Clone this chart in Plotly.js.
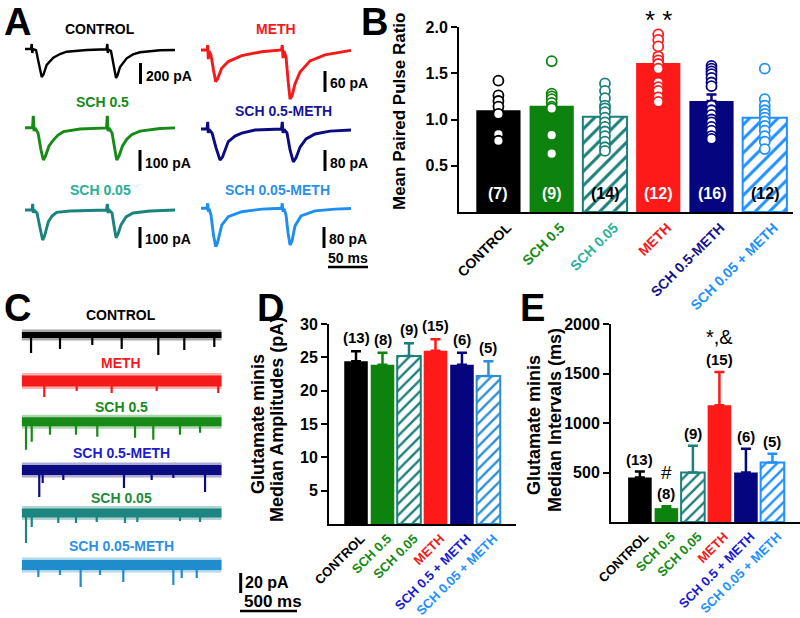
<!DOCTYPE html>
<html><head><meta charset="utf-8">
<script src="https://cdn.plot.ly/plotly-3.0.1.min.js"></script>
<style>body{margin:0;background:#fff}#chart{width:800px;height:618px}</style>
</head><body><div id="chart"></div>
<script>
// ---------------- Panel B data ----------------
const catsB = ["CONTROL", "SCH 0.5", "SCH 0.05", "METH", "SCH 0.5-METH", "SCH 0.05 + METH"];
const nB = ["(7)", "(9)", "(14)", "(12)", "(16)", "(12)"];
const pprMean = [1.10, 1.15, 1.03, 1.61, 1.20, 1.02];
const pprErr = [0.08, 0.10, 0.06, 0.10, 0.07, 0.07];
const pprCtrl = [1.42, 1.26, 1.20, 1.14, 1.06, 0.84, 0.77];
const pprSch05 = [1.63, 1.28, 1.25, 1.22, 1.18, 1.14, 1.12, 0.83, 0.63];
const pprSch005 = [1.39, 1.31, 1.23, 1.15, 1.12, 1.08, 1.02, 0.97, 0.92, 0.87, 0.82, 0.76, 0.70, 0.66];
const pprMeth = [1.92, 1.86, 1.79, 1.68, 1.64, 1.60, 1.55, 1.40, 1.35, 1.31, 1.24, 1.19];
const pprSch05Meth = [1.58, 1.55, 1.52, 1.49, 1.45, 1.40, 1.36, 1.15, 1.10, 1.05, 1.00, 0.97, 0.92, 0.88, 0.82, 0.79];
const pprSch005Meth = [1.55, 1.22, 1.15, 1.10, 1.06, 1.02, 0.98, 0.93, 0.88, 0.82, 0.76, 0.68];

// ---------------- Panels D / E data ----------------
const catsDE = ["CONTROL", "SCH 0.5", "SCH 0.05", "METH", "SCH 0.5 + METH", "SCH 0.05 + METH"];
const ampMedian = [24.4, 23.9, 25.2, 26.0, 23.9, 22.2];
const ampErr = [1.5, 1.8, 1.9, 1.7, 1.8, 2.2];
const ampN = ["(13)", "(8)", "(9)", "(15)", "(6)", "(5)"];
const intMedian = [450, 140, 500, 1180, 500, 600];
const intErr = [60, 20, 270, 335, 240, 90];
const intN = ["(13)", "(8)", "(9)", "(15)", "(6)", "(5)"];

// ---------------- Panel A traces (ms, pA) ----------------
const aNames = ["CONTROL", "METH", "SCH 0.5", "SCH 0.5-METH", "SCH 0.05", "SCH 0.05-METH"];
const aScaleLabels = ["200 pA", "60 pA", "100 pA", "80 pA", "100 pA", "80 pA"];
const aScaleValues = [200, 60, 100, 80, 100, 80];
const ctrlT = [0,7.5,8.4,9.1,10,13.8,16.9,20.9,23.1,27.1,35.4,43.8,52.1,77.1,101.9,102.9,103.5,104.4,107.5,110.6,113.8,115.6,118.8,127.1,135,143.8,168.8,187.5];
const ctrlI = [0,0,48,-38,0,-10,-124,-267,-243,-152,-83,-48,-26,-10,-3,48,-38,-5,-19,-143,-276,-252,-171,-89,-52,-31,-12,-10];
const methT = [0,7.5,8.4,9.1,10,12.5,15.6,18.4,20.6,25.9,34.1,50.9,75.9,100.6,101.6,102.5,103.8,106.3,108.8,111.3,113.8,117.5,123.8,136.3,155,173.8,187.5];
const methI = [0,0,14,-26,-3,-14,-57,-91,-83,-52,-33,-16,-5,0,14,-23,-3,-20,-86,-140,-131,-97,-63,-31,-14,-6,-1];
const sch05T = [0,9.4,10.4,11.3,12.5,16.3,20,22.9,25.6,30,35.4,41.3,48,68.8,101.9,102.9,103.8,105,108.8,111.9,114.6,117.5,121.9,127.5,133.8,143.8,168.8,187.5];
const sch05I = [0,0,60,-16,-1,-25,-106,-154,-135,-87,-59,-35,-19,-6,-1,60,-16,-1,-25,-106,-154,-135,-87,-54,-32,-16,-4,-1];
const sch05MethT = [0,7.5,8.4,9.1,10,13.8,18.8,23.8,26.9,34.1,42.5,50.9,67.5,100.6,101.6,102.5,103.8,107.5,111.3,115.4,118.8,123.8,131.3,142.5,161.3,187.5];
const sch05MethI = [0,0,27,-15,-2,-15,-72,-118,-107,-48,-27,-16,-4,0,27,-15,-2,-15,-80,-125,-110,-69,-38,-19,-8,-4];
const sch005T = [0,8.8,9.6,10.4,11.3,15,18.8,22.1,24.4,29.1,33.8,39.6,56.3,101.9,102.9,103.8,105,108.8,111.3,113.8,116.3,120,126.3,135,156.3,187.5];
const sch005I = [0,0,29,-14,0,-14,-86,-143,-124,-56,-29,-11,-5,0,29,-14,0,-14,-76,-132,-114,-71,-33,-14,-5,0];
const sch005MethT = [0,7.5,8.4,9.1,10,12.5,15.6,18.4,20.6,25.9,34.1,50.9,75.9,100.6,101.6,102.5,103.8,106.3,108.8,111.3,113.8,117.5,125,142.5,167.5,187.5];
const sch005MethI = [0,0,19,-13,-1,-26,-102,-146,-132,-64,-32,-13,-3,0,19,-13,-1,-26,-94,-140,-125,-67,-29,-10,-3,-1];

// ---------------- Panel C mini events (ms, pA) ----------------
const cNames = ["CONTROL", "METH", "SCH 0.5", "SCH 0.5-METH", "SCH 0.05", "SCH 0.05-METH"];
const cDuration = 1754;
const cCtrlEvT = [82, 336, 619, 877, 1198, 1426, 1689];
const cCtrlEvA = [18, 14, 10, 14, 20, 15, 12];
const cMethEvT = [198, 482, 789, 1184, 1724];
const cMethEvA = [16, 10, 12, 10, 12];
const cSch05EvT = [38, 88, 248, 476, 663, 994, 1154, 1388, 1564];
const cSch05EvA = [28, 20, 13, 13, 15, 16, 18, 13, 11];
const cSch05MethEvT = [154, 184, 365, 897, 1140, 1330, 1608];
const cSch05MethEvA = [27, 13, 10, 18, 10, 8, 22];
const cSch005EvT = [38, 88, 321, 476, 658, 906, 1014, 1388, 1564];
const cSch005EvA = [30, 14, 10, 10, 9, 10, 9, 8, 9];
const cSch005MethEvT = [146, 336, 517, 687, 891, 1330, 1403, 1535];
const cSch005MethEvA = [12, 10, 22, 10, 17, 20, 13, 13];

// ================= drawing =================
const FONT = 'Liberation Sans, Arial, Helvetica, sans-serif';
const W = 800, H = 618;
const px = v => v / W;
const py = v => 1 - v / H;
const data = [], annotations = [], shapes = [];
const layout = {
  width: W, height: H, margin: {l: 0, r: 0, t: 0, b: 0}, showlegend: false,
  paper_bgcolor: '#ffffff', plot_bgcolor: 'rgba(0,0,0,0)', barmode: 'overlay',
  font: {family: FONT, color: '#000'}, annotations, shapes
};

function txt(x, y, text, size, color, extra) {
  annotations.push(Object.assign({
    xref: 'paper', yref: 'paper', x: px(x), y: py(y), text, showarrow: false,
    xanchor: 'center', yanchor: 'middle', borderpad: 0,
    font: {family: FONT, size, color, weight: 700}
  }, extra || {}));
}
function seg(x0, y0, x1, y1, w) {
  shapes.push({type: 'line', xref: 'paper', yref: 'paper', x0: px(x0), y0: py(y0), x1: px(x1), y1: py(y1),
    line: {color: '#000', width: w}});
}

// panel letters
txt(17, 22, 'A', 38, '#000');
txt(374, 22, 'B', 38, '#000');
txt(17, 308, 'C', 38, '#000');
txt(270, 308, 'D', 38, '#000');
txt(532, 308, 'E', 38, '#000');

// ---------- Panel A ----------
const aSeries = [[ctrlT, ctrlI], [methT, methI], [sch05T, sch05I], [sch05MethT, sch05MethI], [sch005T, sch005I], [sch005MethT, sch005MethI]];
const aColors = ['#000000', '#f41a1a', '#178a17', '#0c0c82', '#1b837e', '#1e8ef0'];
const aLabelColors = ['#000000', '#f41a1a', '#178a17', '#161696', '#28b09a', '#2a90e6'];
const aLeft = [25, 201, 25, 201, 25, 201];
const aBase = [49, 50, 127.7, 129, 210, 208.3];
const aLabelPos = [[100, 29], [276, 29], [102, 102], [283, 111], [100, 190], [277, 190]];
const aBarPos = [[140.5, 63], [325, 71], [140, 150], [325, 150], [140, 227], [324, 227]];
const barLen = 21, msPerPx = 1.25;
aSeries.forEach((s, k) => {
  const n = 4 + k;
  const unitPerPx = aScaleValues[k] / barLen;
  const wPx = 154, top = 12, bot = 50;
  layout['xaxis' + n] = {domain: [px(aLeft[k]), px(aLeft[k] + wPx)], range: [0, wPx * msPerPx], visible: false, fixedrange: true, anchor: 'y' + n};
  layout['yaxis' + n] = {domain: [py(aBase[k] + bot), py(aBase[k] - top)], range: [-bot * unitPerPx, top * unitPerPx], visible: false, fixedrange: true, anchor: 'x' + n};
  data.push({type: 'scatter', mode: 'lines', x: s[0], y: s[1], xaxis: 'x' + n, yaxis: 'y' + n,
    line: {color: aColors[k], width: k === 0 ? 2.4 : 2.9, shape: 'linear'}, hoverinfo: 'skip'});
  txt(aLabelPos[k][0], aLabelPos[k][1], aNames[k], 14, aLabelColors[k]);
  const b = aBarPos[k];
  seg(b[0], b[1], b[0], b[1] + barLen, 3);
  txt(b[0] + 4, b[1] + barLen / 2 + 2, aScaleLabels[k], 14, '#000', {xanchor: 'left'});
});
seg(328, 267, 368, 267, 2.5);
txt(348, 258, '50 ms', 14, '#000');

// ---------- Panel C ----------
const cSeries = [[cCtrlEvT, cCtrlEvA], [cMethEvT, cMethEvA], [cSch05EvT, cSch05EvA], [cSch05MethEvT, cSch05MethEvA], [cSch005EvT, cSch005EvA], [cSch005MethEvT, cSch005MethEvA]];
const cColors = ['#000000', '#f41a1a', '#178a17', '#0c0c82', '#1c8580', '#1f8ccc'];
const cLabelColors = ['#000000', '#f41a1a', '#178a17', '#1c1cc8', '#1f8a3a', '#2b8fe8'];
const cBase = [335, 381, 421.7, 470, 513, 565];
const cLabelY = [315, 363, 407, 453, 498, 546];
const cBand = [6, 11, 9, 10, 9, 10];
cSeries.forEach((s, k) => {
  const n = 10 + k;
  const left = 21.7, wPx = 200, top = 14, bot = 36;
  layout['xaxis' + n] = {domain: [px(left), px(left + wPx)], range: [0, cDuration], visible: false, fixedrange: true, anchor: 'y' + n};
  layout['yaxis' + n] = {domain: [py(cBase[k] + bot), py(cBase[k] - top)], range: [-bot, top], visible: false, fixedrange: true, anchor: 'x' + n};
  // soft fringe of the noise band, then the dense core
  data.push({type: 'scatter', mode: 'lines', x: [0, cDuration], y: [0, 0], xaxis: 'x' + n, yaxis: 'y' + n, opacity: 0.35,
    line: {color: cColors[k], width: cBand[k] + 5}, hoverinfo: 'skip'});
  data.push({type: 'scatter', mode: 'lines', x: [0, cDuration], y: [0, 0], xaxis: 'x' + n, yaxis: 'y' + n,
    line: {color: cColors[k], width: cBand[k]}, hoverinfo: 'skip'});
  const ex = [], ey = [];
  s[0].forEach((t, j) => { ex.push(t, t, null); ey.push(0, -s[1][j], null); });
  data.push({type: 'scatter', mode: 'lines', x: ex, y: ey, xaxis: 'x' + n, yaxis: 'y' + n,
    line: {color: cColors[k], width: 2.2}, hoverinfo: 'skip'});
  txt(121, cLabelY[k], cNames[k], 14, cLabelColors[k]);
});
seg(240.7, 573, 240.7, 593, 3);
txt(244, 582, '20 pA', 16, '#000', {xanchor: 'left'});
txt(243, 601, '500 ms', 17, '#000', {xanchor: 'left'});
seg(240, 611, 297, 611, 2.5);

// ---------- bar chart helper ----------
function barPanel(ax, cats, vals, errs, fills, hatched, tickColors, dom, xr, yr, tickvals, ticktext, tickSize, catSize, barW, patSize, shift) {
  const xa = ax === 1 ? 'xaxis' : 'xaxis' + ax, ya = ax === 1 ? 'yaxis' : 'yaxis' + ax;
  const xr_ = ax === 1 ? 'x' : 'x' + ax, yr_ = ax === 1 ? 'y' : 'y' + ax;
  layout[xa] = {domain: [px(dom[0]), px(dom[1])], range: xr, anchor: yr_, tickmode: 'array',
    tickvals: cats.map((c, i) => i), ticktext: cats.map((c, i) => '<span style="color:' + tickColors[i] + '">' + c + '</span>'),
    tickangle: -45, ticklabelshift: shift, showline: true, linewidth: 2, linecolor: '#000', ticks: '', showgrid: false, zeroline: false,
    tickfont: {family: FONT, size: catSize, weight: 700}, fixedrange: true};
  layout[ya] = {domain: [py(dom[3]), py(dom[2])], range: yr, anchor: xr_, tickmode: 'array', tickvals, ticktext,
    ticks: 'outside', ticklen: 6, tickwidth: 2, tickcolor: '#000', showline: true, linewidth: 2, linecolor: '#000',
    showgrid: false, zeroline: false, tickfont: {family: FONT, size: tickSize, weight: 700}, fixedrange: true};
  cats.forEach((c, i) => {
    const marker = hatched[i]
      ? {color: '#ffffff', line: {color: fills[i], width: 2}, pattern: {shape: '/', fgcolor: fills[i], bgcolor: '#ffffff', size: patSize, solidity: 0.3}}
      : {color: fills[i], line: {width: 0}};
    data.push({type: 'bar', x: [i], y: [vals[i]], xaxis: xr_, yaxis: yr_, width: barW, marker,
      error_y: {type: 'data', array: [errs[i]], arrayminus: [0], symmetric: false, color: fills[i], thickness: 2.5, width: 5},
      hoverinfo: 'skip'});
  });
}

// ---------- Panel B ----------
const fillB = ['#000000', '#0e820e', '#1b7f7a', '#ff1a1a', '#05057f', '#1e90ff'];
const hatchB = [false, false, true, false, false, true];
const tickColB = ['#000000', '#148a14', '#2ab39b', '#f41a1a', '#14148c', '#1e90ff'];
barPanel(1, catsB, pprMean, pprErr, fillB, hatchB, tickColB, [459, 793, 27, 212], [-0.74, 5.53], [0, 2],
  [0.5, 1.0, 1.5, 2.0], ['0.5', '1.0', '1.5', '2.0'], 16, 14, 0.83, 10, 9);
const pprDots = [pprCtrl, pprSch05, pprSch005, pprMeth, pprSch05Meth, pprSch005Meth];
pprDots.forEach((d, i) => {
  data.push({type: 'scatter', mode: 'markers', x: d.map(() => i), y: d, xaxis: 'x', yaxis: 'y', cliponaxis: false,
    marker: {symbol: 'circle', size: 10, color: '#ffffff', line: {color: fillB[i], width: 1.8}}, hoverinfo: 'skip'});
  annotations.push({xref: 'x', yref: 'y', x: i, y: 0.195, text: nB[i], showarrow: false,
    font: {family: FONT, size: 16, weight: 700, color: hatchB[i] ? '#000' : '#fff'}});
});
annotations.push({xref: 'x', yref: 'paper', x: 3, y: py(20), text: '* *', showarrow: false, yanchor: 'middle',
  font: {family: FONT, size: 26, color: '#000'}});
txt(399, 112, 'Mean Paired Pulse Ratio', 17, '#000', {textangle: -90});

// ---------- Panel D ----------
const fillD = ['#000000', '#0e820e', '#1b7f7a', '#ff1a1a', '#05057f', '#2b8ed6'];
const hatchDE = [false, false, true, false, false, true];
const tickColDE = ['#000000', '#148a14', '#148a14', '#f41a1a', '#1a1ad2', '#1e90ff'];
barPanel(2, catsDE, ampMedian, ampErr, fillD, hatchDE, tickColDE, [329, 516, 324, 524], [-1.02, 6.04], [0, 30],
  [5, 10, 15, 20, 25, 30], ['5', '10', '15', '20', '25', '30'], 16, 13, 0.89, 8, 5);
ampN.forEach((t, i) => annotations.push({xref: 'x2', yref: 'y2', x: i, y: ampMedian[i] + ampErr[i], text: t, showarrow: false,
  yanchor: 'bottom', yshift: 3, font: {family: FONT, size: 15, weight: 700, color: '#000'}}));
txt(258, 424, 'Glutamate minis', 18, '#000', {textangle: -90});
txt(277, 420, 'Median Amplitudes (pA)', 18, '#000', {textangle: -90});

// ---------- Panel E ----------
const fillE = ['#000000', '#0e820e', '#1b7f7a', '#ff1a1a', '#05057f', '#1e90ff'];
barPanel(3, catsDE, intMedian, intErr, fillE, hatchDE, tickColDE, [611, 800, 324, 522], [-1.09, 6.04], [0, 2000],
  [500, 1000, 1500, 2000], ['500', '1000', '1500', '2000'], 16, 13, 0.89, 8, 5);
intN.forEach((t, i) => annotations.push({xref: 'x3', yref: 'y3', x: i, y: intMedian[i] + intErr[i], text: t, showarrow: false,
  yanchor: 'bottom', yshift: 2, font: {family: FONT, size: 15, weight: 700, color: '#000'}}));
annotations.push({xref: 'x3', yref: 'y3', x: 1, y: intMedian[1] + intErr[1], text: '#', showarrow: false,
  yanchor: 'bottom', yshift: 21, font: {family: FONT, size: 19, color: '#000'}});
annotations.push({xref: 'x3', yref: 'y3', x: 3, y: intMedian[3] + intErr[3], text: '*,&amp;', showarrow: false,
  yanchor: 'bottom', yshift: 22, font: {family: FONT, size: 20, color: '#000'}});
txt(534, 425, 'Glutamate minis', 18, '#000', {textangle: -90});
txt(555, 420, 'Median Intervals (ms)', 18, '#000', {textangle: -90});

Plotly.newPlot('chart', data, layout, {staticPlot: true});
</script>
</body></html>
